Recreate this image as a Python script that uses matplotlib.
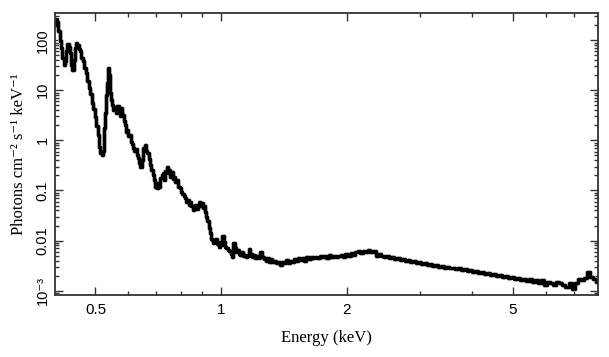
import numpy as np
import matplotlib.pyplot as plt
from matplotlib.ticker import FixedLocator, FixedFormatter, LogLocator, NullFormatter

# unfolded spectrum (keV, photons cm^-2 s^-1 keV^-1)
energy = [0.400, 0.403, 0.406, 0.409, 0.412, 0.415, 0.418, 0.421, 0.424, 0.427,
          0.430, 0.433, 0.436, 0.439, 0.442, 0.445, 0.448, 0.451, 0.454, 0.457,
          0.460, 0.464, 0.468, 0.472, 0.476, 0.480, 0.484, 0.488, 0.492, 0.496,
          0.500, 0.504, 0.508, 0.512, 0.516, 0.520, 0.523, 0.526, 0.529, 0.532,
          0.535, 0.538, 0.541, 0.544, 0.547, 0.550, 0.554, 0.558, 0.562, 0.566,
          0.570, 0.574, 0.578, 0.582, 0.586, 0.590, 0.594, 0.598, 0.602, 0.606,
          0.610, 0.614, 0.618, 0.622, 0.626, 0.630, 0.634, 0.638, 0.643, 0.648,
          0.653, 0.658, 0.663, 0.668, 0.673, 0.678, 0.683, 0.688, 0.693, 0.698,
          0.703, 0.708, 0.713, 0.718, 0.723, 0.728, 0.733, 0.738, 0.743, 0.748,
          0.753, 0.758, 0.763, 0.768, 0.774, 0.780, 0.786, 0.792, 0.798, 0.804,
          0.810, 0.816, 0.822, 0.828, 0.834, 0.840, 0.846, 0.852, 0.858, 0.864,
          0.870, 0.876, 0.882, 0.888, 0.894, 0.900, 0.906, 0.912, 0.918, 0.924,
          0.930, 0.936, 0.942, 0.948, 0.954, 0.960, 0.966, 0.972, 0.978, 0.984,
          0.990, 0.996, 1.002, 1.010, 1.018, 1.026, 1.034, 1.042, 1.050, 1.058,
          1.066, 1.074, 1.082, 1.090, 1.098, 1.106, 1.114, 1.122, 1.130, 1.140,
          1.150, 1.160, 1.170, 1.180, 1.190, 1.200, 1.212, 1.224, 1.236, 1.248,
          1.260, 1.272, 1.284, 1.296, 1.308, 1.320, 1.334, 1.348, 1.362, 1.376,
          1.390, 1.404, 1.420, 1.436, 1.452, 1.468, 1.484, 1.500, 1.516, 1.534,
          1.552, 1.570, 1.590, 1.610, 1.630, 1.650, 1.670, 1.690, 1.710, 1.732,
          1.754, 1.776, 1.800, 1.824, 1.848, 1.872, 1.896, 1.920, 1.946, 1.972,
          2.000, 2.028, 2.056, 2.084, 2.112, 2.140, 2.170, 2.200, 2.232, 2.264,
          2.296, 2.330, 2.364, 2.398, 2.432, 2.468, 2.504, 2.540, 2.578, 2.616,
          2.656, 2.696, 2.736, 2.778, 2.820, 2.862, 2.906, 2.950, 2.996, 3.042,
          3.088, 3.136, 3.184, 3.234, 3.284, 3.336, 3.388, 3.440, 3.494, 3.550,
          3.606, 3.664, 3.722, 3.782, 3.842, 3.904, 3.966, 4.030, 4.096, 4.162,
          4.230, 4.300, 4.370, 4.442, 4.516, 4.590, 4.666, 4.744, 4.822, 4.902,
          4.984, 5.068, 5.152, 5.238, 5.326, 5.416, 5.506, 5.598, 5.692, 5.788,
          5.886, 5.986, 6.088, 6.192, 6.298, 6.406, 6.516, 6.628, 6.742, 6.858,
          6.976, 7.096, 7.218, 7.342, 7.468, 7.596, 7.726, 7.858, 7.992]
flux = [200, 270, 230, 150, 95, 70, 45, 32, 38, 60,
        85, 72, 55, 32, 26, 40, 70, 90, 80, 68,
        62, 45, 38, 28, 22, 15, 11, 8.5, 5.5, 4.2,
        2.9, 1.9, 1.3, 0.75, 0.55, 0.52, 0.62, 1.8, 3.5, 8,
        14, 28, 20, 9, 6.5, 5.0, 4.1, 4.6, 3.6, 4.8,
        4.2, 3.0, 4.4, 3.2, 2.4, 2.0, 1.5, 1.6, 1.2, 1.3,
        0.95, 0.85, 0.7, 0.62, 0.66, 0.52, 0.44, 0.36, 0.30, 0.40,
        0.72, 0.80, 0.62, 0.55, 0.42, 0.32, 0.26, 0.20, 0.16, 0.12,
        0.11, 0.14, 0.12, 0.18, 0.20, 0.22, 0.16, 0.25, 0.30, 0.22,
        0.26, 0.19, 0.23, 0.17, 0.19, 0.15, 0.16, 0.12, 0.11, 0.095,
        0.085, 0.078, 0.07, 0.06, 0.065, 0.052, 0.06, 0.048, 0.04, 0.045,
        0.052, 0.043, 0.05, 0.058, 0.048, 0.055, 0.045, 0.05, 0.038, 0.03,
        0.025, 0.018, 0.014, 0.011, 0.0105, 0.009, 0.0095, 0.011, 0.0085, 0.0095,
        0.0075, 0.0085, 0.0082, 0.0125, 0.0095, 0.0075, 0.0072, 0.0065, 0.0062, 0.0055,
        0.0048, 0.0088, 0.0072, 0.0060, 0.0064, 0.0055, 0.0052, 0.0058, 0.0050, 0.0052,
        0.0047, 0.0050, 0.0068, 0.0055, 0.0048, 0.0052, 0.0045, 0.0050, 0.0044, 0.0060,
        0.0048, 0.0043, 0.0040, 0.0045, 0.0038, 0.0042, 0.0037, 0.0040, 0.0035, 0.0038,
        0.0033, 0.0037, 0.0035, 0.0041, 0.0036, 0.0040, 0.0038, 0.0043, 0.0040, 0.0045,
        0.0041, 0.0044, 0.0040, 0.0046, 0.0043, 0.0047, 0.0044, 0.0048, 0.0045, 0.0050,
        0.0046, 0.0049, 0.0045, 0.0051, 0.0047, 0.0050, 0.0046, 0.0049, 0.0052, 0.0048,
        0.0053, 0.0050, 0.0056, 0.0052, 0.0058, 0.0062, 0.0057, 0.0063, 0.0059, 0.0064,
        0.0058, 0.0061, 0.0050, 0.0055, 0.0049, 0.0047, 0.0050, 0.0045, 0.0047, 0.0043,
        0.0045, 0.0041, 0.0043, 0.0039, 0.0041, 0.0037, 0.0039, 0.0036, 0.0037, 0.0034,
        0.0036, 0.0033, 0.0034, 0.0031, 0.0033, 0.0030, 0.0031, 0.0029, 0.0030, 0.0028,
        0.0029, 0.0027, 0.0028, 0.0026, 0.0027, 0.0025, 0.0026, 0.0024, 0.0025, 0.0023,
        0.0024, 0.0022, 0.0023, 0.0021, 0.0022, 0.0020, 0.0021, 0.0019, 0.0020, 0.00175,
        0.0019, 0.0017, 0.0018, 0.0016, 0.0017, 0.00155, 0.0017, 0.0015, 0.0016, 0.0014,
        0.0016, 0.0013, 0.0015, 0.00145, 0.0013, 0.0015, 0.0014, 0.0013, 0.0012, 0.0014,
        0.0011, 0.0014, 0.0017, 0.0016, 0.0018, 0.0024, 0.0019, 0.0017, 0.0015]

xticks = [0.5, 1, 2, 5]
xlabels = ["0.5", "1", "2", "5"]
yticks = [1e-3, 0.01, 0.1, 1, 10, 100]
ylabels = ["10\u207b\u00b3", "0.01", "0.1", "1", "10", "100"]

sans = ["Liberation Sans", "DejaVu Sans"]
serif = ["Liberation Serif", "DejaVu Serif"]

fig = plt.figure(figsize=(6.09, 3.57), dpi=100)
ax = fig.add_axes([0.0903, 0.1737, 0.8917, 0.79])

# faint halo standing in for the error bars, then the data
ax.plot(energy, flux, drawstyle="steps-mid", color="#e2e2e2", lw=3.6)
ax.plot(energy, flux, drawstyle="steps-mid", color="black", lw=2.5)

ax.set_xscale("log")
ax.set_yscale("log")
ax.set_xlim(0.4, 8.0)
ax.set_ylim(8.2e-4, 350)

ax.xaxis.set_major_locator(FixedLocator(xticks))
ax.xaxis.set_major_formatter(FixedFormatter(xlabels))
ax.xaxis.set_minor_locator(FixedLocator([0.6, 0.7, 0.8, 0.9, 3, 4, 6, 7]))
ax.xaxis.set_minor_formatter(NullFormatter())
ax.yaxis.set_major_locator(FixedLocator(yticks))
ax.yaxis.set_major_formatter(FixedFormatter(ylabels))
ax.yaxis.set_minor_locator(LogLocator(base=10, subs=np.arange(2, 10)))
ax.yaxis.set_minor_formatter(NullFormatter())

ax.tick_params(which="both", direction="in", top=True, right=True, color="#333333", width=1.0)
ax.tick_params(which="major", length=6)
ax.tick_params(which="minor", length=3)
for s in ax.spines.values():
    s.set_linewidth(1.3)
    s.set_color("#333333")

for t in ax.get_xticklabels():
    t.set_family(sans)
    t.set_fontsize(11)
for t in ax.get_yticklabels():
    t.set_family(sans)
    t.set_fontsize(10.5)
    t.set_rotation(90)
    t.set_va("center")
ax.tick_params(axis="x", pad=6)
ax.tick_params(axis="y", pad=4)

ax.set_xlabel("Energy (keV)", family=serif, fontsize=12, labelpad=9)
ax.set_ylabel("Photons cm\u207b\u00b2 s\u207b\u00b9 keV\u207b\u00b9", family=serif, fontsize=12, labelpad=6)

fig.savefig("out.png", dpi=100)
